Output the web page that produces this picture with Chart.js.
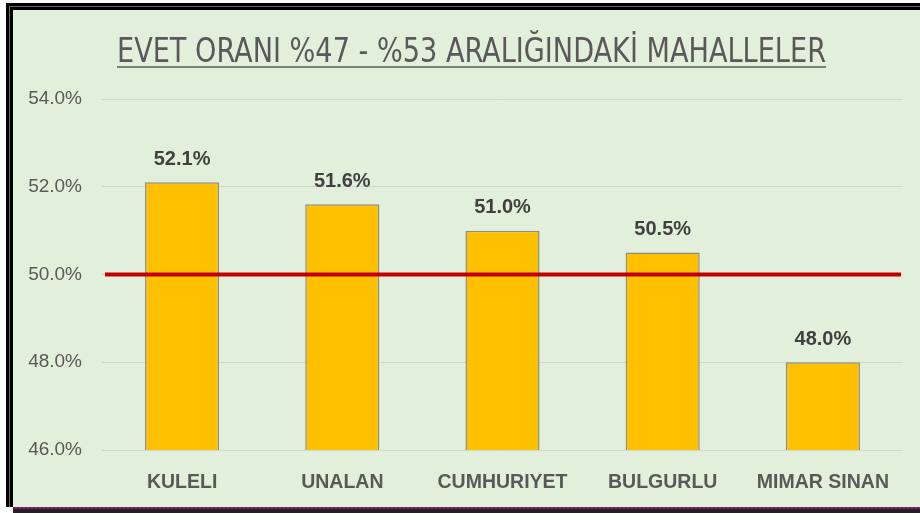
<!DOCTYPE html>
<html>
<head>
<meta charset="utf-8">
<script src="https://cdn.jsdelivr.net/npm/chart.js@4/dist/chart.umd.min.js"></script>
<style>
  html, body { margin: 0; padding: 0; background: #ffffff; width: 920px; height: 513px; overflow: hidden; }
  #frame { position: absolute; left: 6px; top: 3px; width: 907px; height: 497px;
           border-left: 7px solid #000; border-top: 7px solid #000; background: #E2EFDA; }
  #frame::before { content: ""; position: absolute; left: -4px; top: -4px; right: 0; bottom: 0;
           border-left: 1px solid #6a6a6a; border-top: 1px solid #6a6a6a; pointer-events: none; }
  #wrap { position: absolute; left: 0; top: 0; width: 907px; height: 497px; }
  #dots { position: absolute; left: 13px; top: 507px; width: 907px; height: 2px;
          background: repeating-linear-gradient(90deg, #c00000 0 2px, #3a3acc 2px 4px); }
  #below { position: absolute; left: 13px; top: 509px; width: 907px; height: 4px; background: #222; }
</style>
</head>
<body>
<div id="frame"><div id="wrap"><canvas id="c" width="907" height="497"></canvas></div></div>
<div id="dots"></div>
<div id="below"></div>
<script>
const chartTitle = "EVET ORANI %47 - %53 ARALIĞINDAKİ MAHALLELER";
const categories = ["KULELI", "UNALAN", "CUMHURIYET", "BULGURLU", "MIMAR SINAN"];
const evetOrani = [52.1, 51.6, 51.0, 50.5, 48.0];
const referenceLine = [50.0];
const yTicks = [46, 48, 50, 52, 54];

const textGray = "#595959";

const overlayPlugin = {
  id: "overlay",
  afterDatasetsDraw(chart) {
    const ctx = chart.ctx;
    const area = chart.chartArea;
    const yScale = chart.scales.y;
    ctx.save();
    ctx.strokeStyle = "#C00000";
    ctx.lineWidth = 4;
    referenceLine.forEach(v => {
      const py = yScale.getPixelForValue(v);
      ctx.beginPath();
      ctx.moveTo(area.left + 3, py);
      ctx.lineTo(area.right - 2, py);
      ctx.stroke();
    });
    ctx.restore();
    ctx.save();
    ctx.font = "bold 20px 'Liberation Sans', Arial, sans-serif";
    ctx.fillStyle = "#404040";
    ctx.textAlign = "center";
    ctx.textBaseline = "middle";
    const meta = chart.getDatasetMeta(0);
    meta.data.forEach((bar, i) => {
      ctx.fillText(evetOrani[i].toFixed(1) + "%", bar.x, bar.y - 23);
    });
    ctx.restore();
    ctx.save();
    ctx.font = "33px 'Liberation Sans Narrow', 'DejaVu Sans Condensed', 'Liberation Sans', sans-serif";
    ctx.fillStyle = textGray;
    ctx.textAlign = "center";
    ctx.textBaseline = "alphabetic";
    const tx = 458.5, ty = 52, maxW = 709;
    ctx.fillText(chartTitle, tx, ty, maxW);
    const w = Math.min(ctx.measureText(chartTitle).width, maxW);
    ctx.strokeStyle = textGray;
    ctx.lineWidth = 1.5;
    ctx.beginPath();
    ctx.moveTo(tx - w / 2, ty + 5);
    ctx.lineTo(tx + w / 2, ty + 5);
    ctx.stroke();
    ctx.restore();
  }
};

new Chart(document.getElementById("c"), {
  type: "bar",
  data: {
    labels: categories,
    datasets: [{
      data: evetOrani,
      backgroundColor: "#FFC000",
      borderColor: "#8C8C8C",
      borderWidth: 1.5,
      barPercentage: 0.4625,
      categoryPercentage: 1.0
    }]
  },
  options: {
    responsive: false,
    animation: false,
    devicePixelRatio: 1,
    layout: { padding: { left: 0, right: 17, top: 89, bottom: 0 } },
    plugins: { legend: { display: false }, title: { display: false }, tooltip: { enabled: false } },
    scales: {
      x: {
        grid: { display: false, drawTicks: false },
        border: { display: false },
        ticks: { color: textGray, padding: 21, font: { family: "'Liberation Sans', Arial, sans-serif", size: 19.5, weight: "bold" } },
        afterFit(scale) { scale.height = 57; }
      },
      y: {
        min: yTicks[0],
        max: yTicks[yTicks.length - 1],
        afterBuildTicks(scale) { scale.ticks = yTicks.map(v => ({ value: v })); },
        grid: { color: "#D0D6CE", lineWidth: 1, drawTicks: false },
        border: { display: false },
        ticks: {
          color: textGray,
          padding: 20,
          font: { family: "'Liberation Sans', Arial, sans-serif", size: 19 },
          callback: v => Number(v).toFixed(1) + "%"
        },
        afterFit(scale) { scale.width = 89; }
      }
    }
  },
  plugins: [overlayPlugin]
});
</script>
</body>
</html>
